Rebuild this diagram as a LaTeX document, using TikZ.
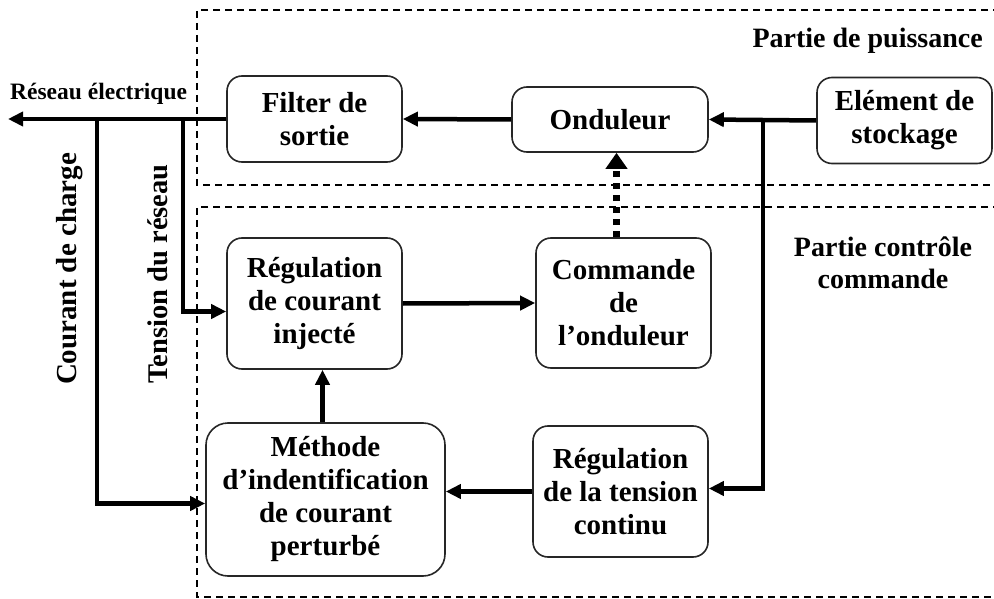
\documentclass[tikz,border=0pt]{standalone}
\usepackage{fontspec}
\setmainfont{Liberation Serif}
\usetikzlibrary{arrows.meta,calc}
\tikzset{
  blk/.style={draw=black!85, line width=1.6pt, rounded corners=15pt, align=center,
    inner sep=2pt, font=\fontsize{29}{33}\selectfont\bfseries},
  conn/.style={line width=4.5pt, -{Triangle[length=15pt,width=14pt]}},
  plainconn/.style={line width=4.5pt},
  zone/.style={line width=1.4pt, dash pattern=on 7pt off 5pt},
  lbl/.style={font=\fontsize{28}{32}\selectfont\bfseries, align=center, inner sep=0pt},
  cmdlink/.style={line width=7pt, dash pattern=on 6pt off 6pt, -{Triangle[length=16pt,width=21pt]}}
}
\begin{document}
\begin{tikzpicture}[x=1pt,y=-1pt]
\useasboundingbox (0,0) rectangle (994,599);
% zones
\draw[zone] (1000,10) -- (197,10) -- (197,185) -- (1000,185);
\draw[zone] (1000,207) -- (197,207) -- (197,597) -- (1000,597);
% blocks
\node[blk, minimum width=175pt, minimum height=86pt] (filt) at (314.5,119) {Filter de\\sortie};
\node[blk, minimum width=196pt, minimum height=65pt] (ond) at (610,119.5) {Onduleur};
\node[blk, minimum width=175pt, minimum height=86pt] (stock) at (904.5,120.5) {Elément de\\stockage};
\node[blk, minimum width=175pt, minimum height=131pt] (reg) at (314.5,303.5) {Régulation\\de courant\\injecté};
\node[blk, minimum width=175pt, minimum height=130pt] (cmd) at (623.5,303) {Commande\\de\\l’onduleur};
\node[blk, rounded corners=22pt, minimum width=239pt, minimum height=153pt] (meth) at (325.5,499.5) {Méthode\\d’indentification\\de courant\\perturbé};
\node[blk, minimum width=175pt, minimum height=131pt] (rt) at (620.5,491.5) {Régulation\\de la tension\\continu};
% labels
\node[lbl, anchor=base west, font=\fontsize{23.5}{27}\selectfont\bfseries] (reseau) at (10,100) {Réseau électrique};
\node[lbl, anchor=base east] (puis) at (983,48) {Partie de puissance};
\node[lbl] (ctrl) at (883,263) {Partie contrôle\\commande};
\node[lbl, rotate=90, font=\fontsize{29}{33}\selectfont\bfseries] (ich) at (70,269) {Courant de charge};
\node[lbl, rotate=90, font=\fontsize{28.5}{33}\selectfont\bfseries] (vres) at (158,274) {Tension du réseau};
% junction coordinates
\coordinate (grid) at (8,119);
\coordinate (j1) at (97,119);
\coordinate (j2) at (183,119);
\coordinate (j3) at (763,120.5);
% connectors
\draw[conn] (filt.west) -- (grid);
\draw[conn] (ond.west) -- (filt.east);
\draw[conn] (stock.west) -- (ond.east);
\draw[conn] (j1) |- ([yshift=-4pt]meth.west);
\draw[conn] (j2) |- ([yshift=-8pt]reg.west);
\draw[conn] (j3) |- ([yshift=3pt]rt.east);
\draw[conn] (rt.west) -- (rt.west -| meth.east);
\draw[conn] ([xshift=8pt]reg.south |- meth.north) -- ([xshift=8pt]reg.south);
\draw[conn] (reg.east) -- (cmd.west);
\draw[cmdlink] ([xshift=-7pt]cmd.north) -- ([xshift=-7pt]cmd.north |- ond.south);
\end{tikzpicture}
\end{document}
